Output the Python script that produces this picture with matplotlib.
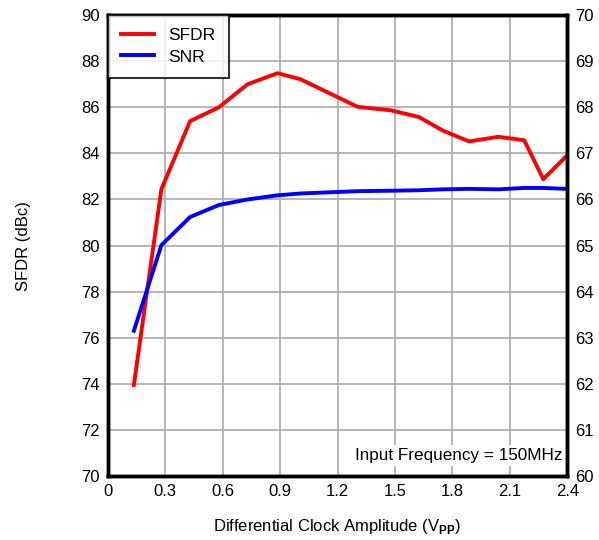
import matplotlib
matplotlib.use("Agg")
import matplotlib.pyplot as plt

plt.rcParams['font.family'] = ['Liberation Sans', 'DejaVu Sans']
plt.rcParams['mathtext.fontset'] = 'custom'
plt.rcParams['mathtext.rm'] = 'Liberation Sans'
plt.rcParams['mathtext.bf'] = 'Liberation Sans:bold'

clock_vpp = [0.136, 0.28, 0.43, 0.58, 0.73, 0.886, 1.006, 1.305, 1.478, 1.625, 1.75, 1.887, 2.04, 2.175, 2.275, 2.395]
sfdr = [73.95, 82.45, 85.40, 86.0, 87.0, 87.48, 87.22, 86.02, 85.87, 85.58, 84.99, 84.52, 84.72, 84.57, 82.88, 83.88]
snr = [63.15, 65.01, 65.62, 65.88, 66.0, 66.09, 66.13, 66.18, 66.19, 66.2, 66.22, 66.23, 66.22, 66.25, 66.25, 66.23]

x_ticks = [0, 0.3, 0.6, 0.9, 1.2, 1.5, 1.8, 2.1, 2.4]
x_labels = ['0', '0.3', '0.6', '0.9', '1.2', '1.5', '1.8', '2.1', '2.4']
left_ticks = list(range(70, 91, 2))
right_ticks = list(range(60, 71, 1))

fig = plt.figure(figsize=(5.99, 5.40), dpi=100)
ax = fig.add_axes([0.180, 0.1185, 0.767, 0.8535])
ax2 = ax.twinx()

ax.set_xlim(0, 2.4)
ax.set_ylim(70, 90)
ax2.set_ylim(60, 70)
ax.set_xticks(x_ticks)
ax.set_xticklabels(x_labels)
ax.set_yticks(left_ticks)
ax2.set_yticks(right_ticks)

ax.grid(True, color='#b0b0b0', linewidth=1.3)
ax.set_axisbelow(True)

l1, = ax.plot(clock_vpp, sfdr, color='#ff0000', linewidth=2.8, label='SFDR')
l2, = ax2.plot(clock_vpp, snr, color='#0000ff', linewidth=2.8, label='SNR')

for a in (ax, ax2):
    for s in a.spines.values():
        s.set_linewidth(2.5)
        s.set_color('black')
    a.tick_params(length=0, labelsize=12, pad=6)

ax.set_ylabel('SFDR (dBc)', fontsize=12, labelpad=36)
ax.set_xlabel(r'Differential Clock Amplitude (V$_{\mathbf{PP}}$)', fontsize=12, labelpad=13)

leg = ax2.legend(handles=[l1, l2], loc='upper left', fontsize=12.5, frameon=True,
                 fancybox=False, borderaxespad=0, handlelength=1.9, borderpad=0.75,
                 labelspacing=0.35, handletextpad=0.85)
leg.get_frame().set_edgecolor('black')
leg.get_frame().set_linewidth(1.5)

ax2.text(0.99, 0.045, 'Input Frequency = 150MHz', transform=ax.transAxes,
         ha='right', va='center', fontsize=12.3,
         bbox=dict(facecolor='white', edgecolor='none', pad=2))

fig.savefig('out.png', dpi=100)
